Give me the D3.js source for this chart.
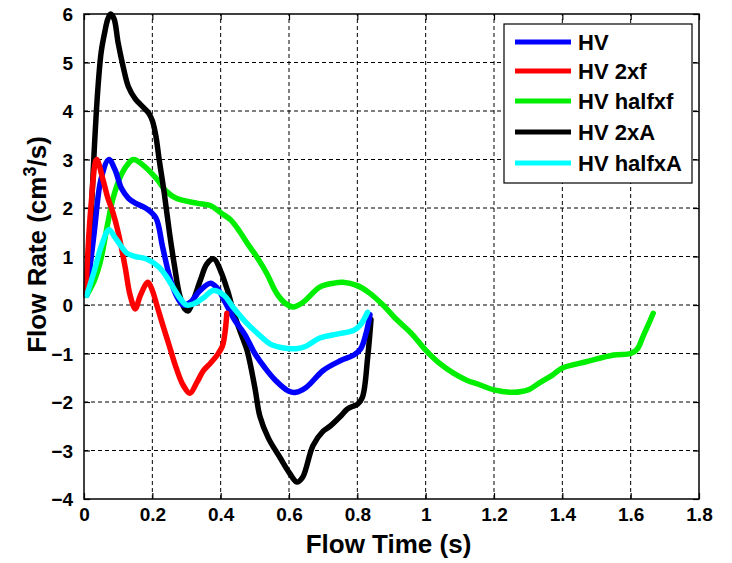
<!DOCTYPE html>
<html><head><meta charset="utf-8">
<script src="https://cdn.jsdelivr.net/npm/d3@7"></script>
<style>body{margin:0;background:#fff}svg{display:block}</style>
</head><body>
<script>
const xTicks = [0,0.2,0.4,0.6,0.8,1,1.2,1.4,1.6,1.8];
const yTicks = [-4,-3,-2,-1,0,1,2,3,4,5,6];
const seriesNames = ["HV","HV 2xf","HV halfxf","HV 2xA","HV halfxA"];
const seriesColors = ["#0000ff","#ff0000","#00ee00","#000000","#00ffff"];

const hvT = [0.008,0.03,0.05,0.073,0.09,0.11,0.13,0.15,0.18,0.21,0.23,0.25,0.27,0.29,0.31,0.34,0.37,0.39,0.41,0.44,0.47,0.5,0.53,0.56,0.6,0.62,0.65,0.7,0.75,0.79,0.81,0.825,0.837];
const hvV = [0.2,1.5,2.6,3.0,2.8,2.4,2.2,2.1,2.0,1.8,1.2,0.6,0.2,0.0,0.05,0.3,0.45,0.35,0.1,-0.3,-0.6,-1.0,-1.3,-1.55,-1.78,-1.8,-1.7,-1.35,-1.15,-1.03,-0.9,-0.6,-0.2];

const f2T = [0.005,0.02,0.037,0.055,0.07,0.085,0.1,0.12,0.135,0.15,0.165,0.187,0.2,0.213,0.23,0.25,0.27,0.29,0.31,0.33,0.35,0.37,0.39,0.405,0.413,0.418];
const f2V = [0.2,2.0,3.0,2.6,2.2,1.9,1.5,0.8,0.2,-0.08,0.2,0.47,0.3,0.0,-0.4,-0.85,-1.3,-1.65,-1.82,-1.6,-1.35,-1.2,-1.03,-0.85,-0.55,-0.17];

const hfT = [0.008,0.03,0.047,0.07,0.085,0.11,0.13,0.145,0.17,0.213,0.24,0.27,0.33,0.37,0.4,0.43,0.457,0.48,0.505,0.535,0.563,0.59,0.612,0.64,0.69,0.73,0.758,0.8,0.837,0.875,0.915,0.96,1.0,1.04,1.08,1.12,1.16,1.2,1.256,1.3,1.334,1.37,1.4,1.47,1.55,1.6,1.62,1.636,1.652,1.666];
const hfV = [0.2,0.5,0.87,1.7,2.2,2.7,2.92,3.0,2.9,2.6,2.35,2.2,2.1,2.05,1.9,1.75,1.5,1.25,1.0,0.65,0.25,0.03,-0.04,0.05,0.37,0.45,0.47,0.4,0.24,0.0,-0.3,-0.6,-0.93,-1.2,-1.4,-1.55,-1.65,-1.75,-1.8,-1.75,-1.6,-1.45,-1.3,-1.17,-1.03,-1.0,-0.9,-0.65,-0.4,-0.17];

const aT = [0.008,0.015,0.022,0.03,0.04,0.05,0.06,0.07,0.078,0.088,0.1,0.115,0.13,0.15,0.17,0.19,0.2,0.21,0.22,0.235,0.25,0.265,0.28,0.295,0.305,0.32,0.34,0.36,0.38,0.4,0.42,0.44,0.46,0.477,0.5,0.515,0.54,0.574,0.6,0.623,0.64,0.67,0.7,0.72,0.75,0.77,0.79,0.80,0.815,0.83,0.84];
const aV = [0.3,1.0,2.0,3.2,4.4,5.2,5.6,5.9,6.0,5.9,5.4,4.9,4.5,4.25,4.1,3.95,3.8,3.5,3.0,2.3,1.5,0.8,0.2,-0.08,-0.12,0.1,0.5,0.85,0.95,0.7,0.3,-0.2,-0.6,-0.93,-1.7,-2.3,-2.75,-3.15,-3.45,-3.65,-3.55,-2.9,-2.6,-2.5,-2.3,-2.15,-2.08,-2.05,-1.9,-1.1,-0.3];

const haT = [0.008,0.03,0.05,0.073,0.09,0.11,0.125,0.15,0.183,0.22,0.24,0.26,0.28,0.3,0.32,0.35,0.378,0.41,0.437,0.477,0.51,0.544,0.58,0.62,0.65,0.69,0.74,0.79,0.81,0.83];
const haV = [0.2,0.7,1.2,1.55,1.4,1.2,1.07,1.0,0.95,0.78,0.6,0.37,0.15,0.0,0.02,0.15,0.3,0.2,-0.05,-0.38,-0.6,-0.8,-0.88,-0.9,-0.85,-0.68,-0.6,-0.52,-0.4,-0.15];

const allT = [hvT,f2T,hfT,aT,haT];
const allV = [hvV,f2V,hfV,aV,haV];

const W = 732, H = 563;
const m = {l:84, t:14, r:W-699, b:H-499};
const svg = d3.select("body").append("svg").attr("width",W).attr("height",H);
const x = d3.scaleLinear().domain([0,1.8]).range([m.l, W-m.r]);
const y = d3.scaleLinear().domain([-4,6]).range([H-m.b, m.t]);
const font = "Arial, 'Liberation Sans', sans-serif";

// grid
const grid = svg.append("g").attr("stroke","#000").attr("stroke-width",1).attr("stroke-dasharray","4,3");
xTicks.slice(1,-1).forEach(t=>grid.append("line").attr("x1",x(t)).attr("x2",x(t)).attr("y1",y(-4)).attr("y2",y(6)));
yTicks.slice(1,-1).forEach(t=>grid.append("line").attr("y1",y(t)).attr("y2",y(t)).attr("x1",x(0)).attr("x2",x(1.8)));

// axes with inside ticks
const xa = svg.append("g").attr("transform",`translate(0,${y(-4)})`)
  .call(d3.axisBottom(x).tickValues(xTicks).tickSize(-6).tickPadding(9).tickFormat(d=>d3.format("~g")(d)));
const xt = svg.append("g").attr("transform",`translate(0,${y(6)})`)
  .call(d3.axisTop(x).tickValues(xTicks).tickSize(-6).tickFormat(""));
const ya = svg.append("g").attr("transform",`translate(${x(0)},0)`)
  .call(d3.axisLeft(y).tickValues(yTicks).tickSize(-6).tickPadding(11));
const yr = svg.append("g").attr("transform",`translate(${x(1.8)},0)`)
  .call(d3.axisRight(y).tickValues(yTicks).tickSize(-6).tickFormat(""));
[xa,xt,ya,yr].forEach(g=>{
  g.select(".domain").remove();
  g.selectAll("line").attr("stroke","#000").attr("stroke-width",1.2);
  g.selectAll("text").attr("font-family",font).attr("font-weight","bold").attr("font-size",19).attr("fill","#000");
});
ya.selectAll("text").attr("dy","0.35em");

// lines
const line = d3.line().x(d=>x(d[0])).y(d=>y(d[1])).curve(d3.curveCatmullRom.alpha(0.5));
const plotOrder = [2,3,0,1,4];
plotOrder.forEach(i=>{
  const pts = allT[i].map((t,k)=>[t,allV[i][k]]);
  svg.append("path").datum(pts).attr("d",line).attr("fill","none")
    .attr("stroke",seriesColors[i]).attr("stroke-width",5.5).attr("stroke-linejoin","round").attr("stroke-linecap","round");
});

// frame
svg.append("rect").attr("x",x(0)).attr("y",y(6)).attr("width",x(1.8)-x(0)).attr("height",y(-4)-y(6))
  .attr("fill","none").attr("stroke","#000").attr("stroke-width",1.5);

// legend
const lg = svg.append("g");
lg.append("rect").attr("x",504).attr("y",24).attr("width",188).attr("height",159).attr("fill","#fff").attr("stroke","#000").attr("stroke-width",1.2);
const rowsY = [42,71,101,132,163];
seriesNames.forEach((n,i)=>{
  lg.append("line").attr("x1",515).attr("x2",571).attr("y1",rowsY[i]).attr("y2",rowsY[i]).attr("stroke",seriesColors[i]).attr("stroke-width",5);
  lg.append("text").attr("x",578).attr("y",rowsY[i]).attr("dy","0.36em").attr("font-family",font).attr("font-weight","bold").attr("font-size",22).text(n);
});

// titles
svg.append("text").attr("x",(x(0)+x(1.8))/2 - 3).attr("y",553).attr("text-anchor","middle")
  .attr("font-family",font).attr("font-weight","bold").attr("font-size",26).text("Flow Time (s)");
const yt = svg.append("text").attr("transform",`translate(46,${(y(-4)+y(6))/2 - 12}) rotate(-90)`).attr("text-anchor","middle")
  .attr("font-family",font).attr("font-weight","bold").attr("font-size",26);
yt.append("tspan").text("Flow Rate (cm");
yt.append("tspan").attr("dy",-10).attr("font-size",18).text("3");
yt.append("tspan").attr("dy",10).text("/s)");
</script>
</body></html>
